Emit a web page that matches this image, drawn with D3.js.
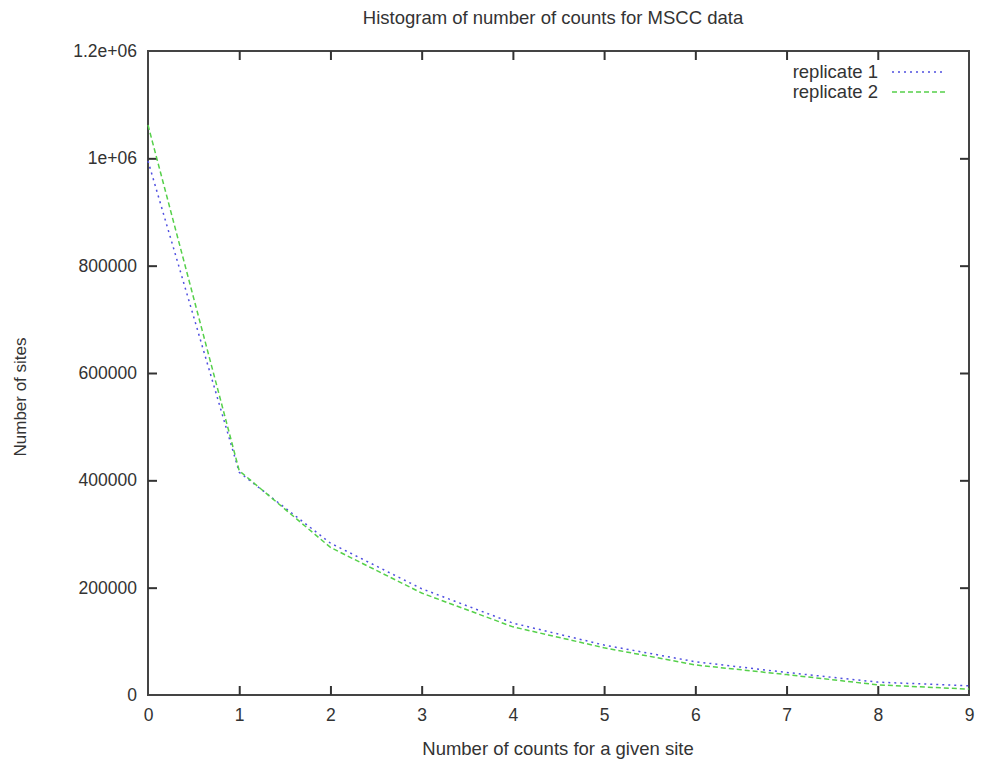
<!DOCTYPE html>
<html>
<head>
  <meta charset="UTF-8">
  <title>Histogram of number of counts for MSCC data</title>
  <script src="https://d3js.org/d3.v7.min.js"></script>
  <style>
    body {
      margin: 0;
      padding: 0;
      background: #fff;
    }
    svg {
      display: block;
    }
    text {
      font-family: "Liberation Sans", Arial, sans-serif;
      fill: #333;
    }
  </style>
</head>
<body>

<script>
  // counts per site (x) and number of sites for each replicate
  const counts = [0, 1, 2, 3, 4, 5, 6, 7, 8, 9];
  const replicate1 = [995000, 415000, 283000, 198000, 134000, 93000, 62000, 42000, 24000, 17000];
  const replicate2 = [1062000, 418000, 275000, 190000, 127000, 88000, 56000, 38000, 19000, 11000];
  const yTicks = [0, 200000, 400000, 600000, 800000, 1000000, 1200000];
  const yTickLabels = ["0", "200000", "400000", "600000", "800000", "1e+06", "1.2e+06"];

  const width = 982;
  const height = 764;
  const margin = {top: 51, right: 13, bottom: 69, left: 148};

  const svg = d3.select("body")
    .append("svg")
    .attr("width", width)
    .attr("height", height);

  const x = d3.scaleLinear()
    .domain([0, 9])
    .range([margin.left, width - margin.right]);

  const y = d3.scaleLinear()
    .domain([0, 1200000])
    .range([height - margin.bottom, margin.top]);

  const tickLen = 9;

  // frame
  svg.append("rect")
    .attr("x", x(0))
    .attr("y", y(1200000))
    .attr("width", x(9) - x(0))
    .attr("height", y(0) - y(1200000))
    .attr("fill", "none")
    .attr("stroke", "#444")
    .attr("stroke-width", 2);

  // inward ticks, mirrored on the opposite sides
  const xAxis = svg.append("g").attr("transform", `translate(0,${y(0)})`)
    .call(d3.axisBottom(x).tickValues(counts).tickSize(-tickLen).tickPadding(14).tickFormat(d3.format("d")));
  const xAxisTop = svg.append("g").attr("transform", `translate(0,${y(1200000)})`)
    .call(d3.axisTop(x).tickValues(counts).tickSize(-tickLen).tickFormat(""));
  const yAxis = svg.append("g").attr("transform", `translate(${x(0)},0)`)
    .call(d3.axisLeft(y).tickValues(yTicks).tickSize(-tickLen).tickPadding(11)
      .tickFormat((d, i) => yTickLabels[i]));
  const yAxisRight = svg.append("g").attr("transform", `translate(${x(9)},0)`)
    .call(d3.axisRight(y).tickValues(yTicks).tickSize(-tickLen).tickFormat(""));

  [xAxis, xAxisTop, yAxis, yAxisRight].forEach(g => {
    g.select(".domain").remove();
    g.selectAll(".tick line").attr("stroke", "#333").attr("stroke-width", 2);
    g.selectAll(".tick text")
      .attr("font-size", 17.5)
      .attr("font-family", "Liberation Sans, Arial, sans-serif")
      .attr("fill", "#333");
  });
  // first/last ticks sit on the frame corners
  [xAxis, xAxisTop].forEach(g => g.selectAll(".tick").filter(d => d === 0 || d === 9).select("line").remove());
  [yAxis, yAxisRight].forEach(g => g.selectAll(".tick").filter(d => d === 0 || d === 1200000).select("line").remove());

  const line = d3.line()
    .x((d, i) => x(counts[i]))
    .y(d => y(d));

  const series = [
    {name: "replicate 1", values: replicate1, color: "#4f4fe0", dash: "2,4"},
    {name: "replicate 2", values: replicate2, color: "#55d04a", dash: "5,3"}
  ];

  svg.selectAll("path.series")
    .data(series)
    .enter().append("path")
    .attr("class", "series")
    .attr("d", d => line(d.values))
    .attr("fill", "none")
    .attr("stroke", d => d.color)
    .attr("stroke-width", 1.5)
    .attr("stroke-dasharray", d => d.dash);

  // legend
  const legend = svg.selectAll("g.legend")
    .data(series)
    .enter().append("g")
    .attr("class", "legend")
    .attr("transform", (d, i) => `translate(0,${72 + i * 20})`);

  legend.append("text")
    .attr("x", 878)
    .attr("y", 6)
    .attr("text-anchor", "end")
    .attr("font-size", 18.5)
    .text(d => d.name);

  legend.append("line")
    .attr("x1", 892)
    .attr("x2", 946)
    .attr("y1", 0)
    .attr("y2", 0)
    .attr("stroke", d => d.color)
    .attr("stroke-width", 1.5)
    .attr("stroke-dasharray", d => d.dash);

  // titles
  svg.append("text")
    .attr("x", 553)
    .attr("y", 24)
    .attr("text-anchor", "middle")
    .attr("font-size", 18.5)
    .text("Histogram of number of counts for MSCC data");

  svg.append("text")
    .attr("x", 558)
    .attr("y", 755)
    .attr("text-anchor", "middle")
    .attr("font-size", 18.5)
    .text("Number of counts for a given site");

  svg.append("text")
    .attr("transform", "translate(26,397) rotate(-90)")
    .attr("text-anchor", "middle")
    .attr("font-size", 17)
    .text("Number of sites");
</script>

</body>
</html>
